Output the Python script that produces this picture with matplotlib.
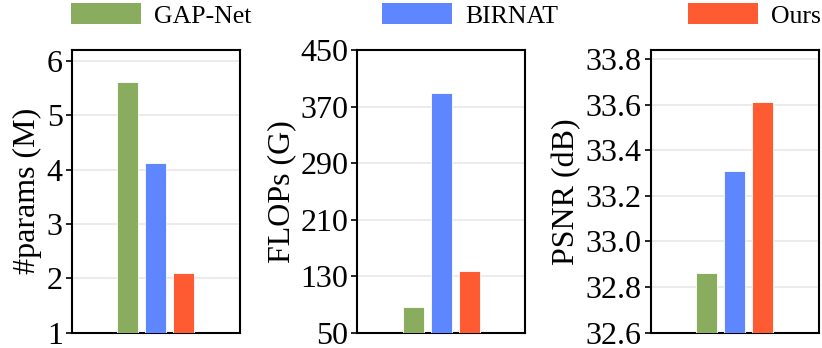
from matplotlib import pyplot as plt
from matplotlib.patches import Patch
import numpy as np

plt.rcParams['font.family'] = ['Liberation Serif', 'DejaVu Serif']

methods = ["GAP-Net", "BIRNAT", "Ours"]
colors = ["#89AC5E", "#5E87FF", "#FF5B33"]

params_m = [5.62, 4.12, 2.09]
flops_g = [87, 389, 137]
psnr_db = [32.86, 33.31, 33.61]

panels = [
    (params_m, "#params (M)", (1, 6.2), [1, 2, 3, 4, 5, 6], "{:.0f}"),
    (flops_g, "FLOPs (G)", (50, 450), [50, 130, 210, 290, 370, 450], "{:.0f}"),
    (psnr_db, "PSNR (dB)", (32.6, 33.84), [32.6, 32.8, 33.0, 33.2, 33.4, 33.6, 33.8], "{:.1f}"),
]
lefts = [0.0872, 0.4347, 0.7916]

fig = plt.figure(figsize=(8.22, 3.48), dpi=100)
x = np.array([-1, 0, 1])
for left, (vals, label, ylim, ticks, fmt) in zip(lefts, panels):
    ax = fig.add_axes([left, 0.044, 0.2042, 0.8124])
    ax.bar(x, np.array(vals) - ylim[0], bottom=ylim[0], width=0.75,
           color=colors, edgecolor="white", linewidth=0.6, zorder=3)
    ax.set_xlim(-3, 3)
    ax.set_ylim(*ylim)
    ax.set_yticks(ticks)
    ax.set_yticklabels([fmt.format(t) for t in ticks])
    ax.set_xticks([])
    ax.grid(axis="y", color="#e8e8e8", linewidth=1.2, zorder=0)
    ax.tick_params(axis="y", labelsize=23, length=4.5, width=1.2, pad=2)
    ax.set_ylabel(label, fontsize=23, labelpad=3)
    for s in ax.spines.values():
        s.set_linewidth(1.5)

handles = [Patch(facecolor=c, label=m) for c, m in zip(colors, methods)]
fig.legend(handles=handles, loc="upper left", bbox_to_anchor=(71 / 822, 1 - 3 / 348),
           ncol=3, frameon=False, fontsize=18.5, handlelength=2.72, handleheight=0.9,
           handletextpad=0.52, columnspacing=5.06, borderpad=0, borderaxespad=0)

plt.savefig("out.png", dpi=100)
plt.close()
